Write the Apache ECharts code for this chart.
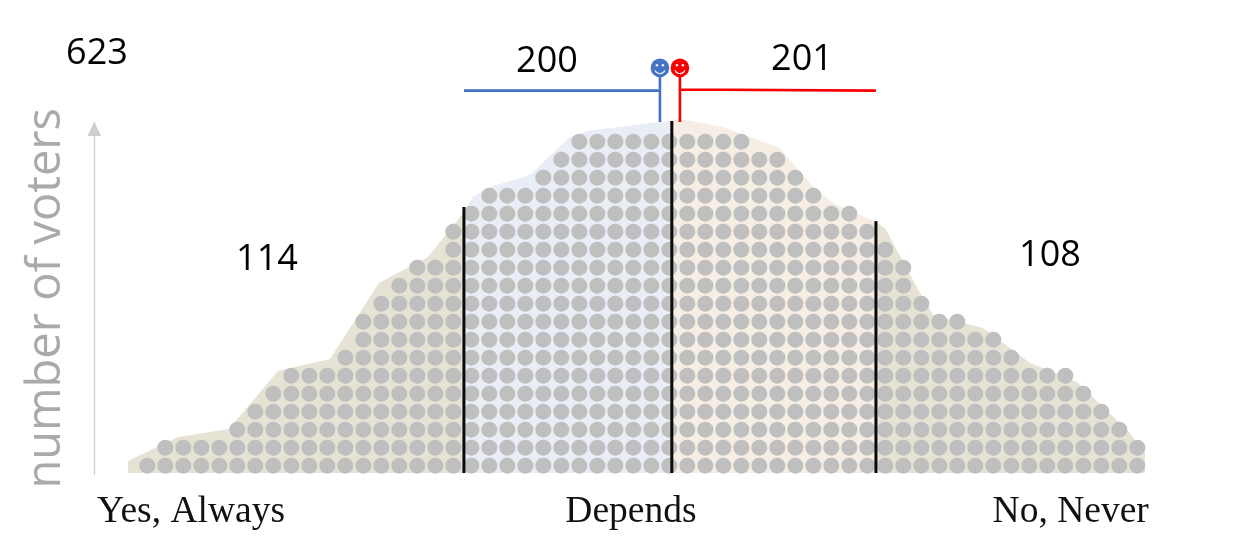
<!DOCTYPE html>
<html><head><meta charset="utf-8">
<style>html,body{margin:0;padding:0;background:#fff}#c{width:1236px;height:551px}</style>
<script src="https://cdn.jsdelivr.net/npm/echarts@6/dist/echarts.min.js"></script>
</head><body><div id="c"></div>
<script>
// Dots per column, left to right
const columnHeights = [1,2,2,2,2,3,4,5,6,6,6,7,9,10,11,12,12,14,
  15,16,16,16,17,18,19,19,19,19,19,19,
  19,19,19,19,18,18,17,16,15,15,14,
  13,12,10,9,9,8,8,7,6,6,6,5,4,3,2];
const xTickValues = [2.43, 26.87, 51.3];
const xTickLabels = ['Yes, Always', 'Depends', 'No, Never'];
const yAxisTitle = 'number of voters';
const segmentCounts = [114, 200, 201, 108];
const totalCount = 623;
// Shaded outline, in column / row units
const outlineLeft = [[-1.07,1.26],[1.71,2.59],[4.54,3.04],[7.26,6.26],[10.15,6.93],[12.87,11.15],[15.6,12.59],[17.59,15.09]];
const outlineMidL = [[17.59,15.09],[18.09,15.93],[19.04,16.48],[21.26,17.15],[23.48,19.26],[24.43,19.59],[28.48,20.09],[29.14,20.15]];
const outlineMidR = [[29.14,20.2],[29.59,20.26],[31.98,19.82],[35.15,18.65],[36.98,16.48],[38.09,15.59],[40.48,14.54]];
const outlineRight = [[40.48,14.54],[40.98,14.2],[42.93,10.59],[43.65,9.37],[46.43,8.65],[49.04,6.71],[51.65,5.65],[54.43,2.98],[55.43,1.71]];
// Dividers and brackets
const dividerA = [[17.59,0.594],[17.59,15.37]];
const dividerB = [[29.14,0.594],[29.14,20.15]];
const dividerC = [[40.48,0.594],[40.48,14.59]];
const blueBracket = [[17.59,21.84],[28.48,21.84],[28.48,22.6],[28.48,20.09]];
const redBracket = [[40.48,21.84],[29.59,21.9],[29.59,22.6],[29.59,20.09]];
const faces = [[28.48,23.1,'#4472c4'],[29.59,23.1,'#f80000']];

const BASE = 0.594;
const dots = [];
columnHeights.forEach((h, i) => { for (let r = 1; r <= h; r++) dots.push([i, r]); });

const area = (data, color) => ({type:'line', data, symbol:'none', clip:false, silent:true, z:1,
  lineStyle:{width:0}, areaStyle:{color, opacity:1, origin:BASE}});
const rule = (data, color, width, z) => ({type:'line', data, symbol:'none', clip:false, silent:true, z,
  lineStyle:{color, width, cap:'butt', join:'miter'}});

const text = (x, y, t) => ({type:'text', x, y, silent:true, style:{text:String(t), x:0, y:0, align:'center', verticalAlign:'middle',
  font:'36px "Open Sans"', fill:'#000'}});

const chart = echarts.init(document.getElementById('c'), null, {renderer:'canvas'});
chart.setOption({
  animation:false,
  backgroundColor:'#fff',
  grid:{left:93.3, width:1080, top:121.9, height:352.8, containLabel:false, outerBoundsMode:'none'},
  xAxis:{type:'value', min:-3, max:57, splitLine:{show:false}, axisLine:{show:false}, axisTick:{show:false},
    axisLabel:{show:true, customValues:xTickValues, margin:18,
      formatter:v => xTickLabels[xTickValues.indexOf(v)] || '',
      fontFamily:'Liberation Serif', fontSize:37.5, color:'#111', verticalAlign:'top'}},
  yAxis:{type:'value', min:0.5, max:20.1, offset:-1, splitLine:{show:false}, axisTick:{show:false}, axisLabel:{show:false},
    axisLine:{show:true, onZero:false, symbol:['none','triangle'], symbolSize:[14,14], symbolOffset:[0,-7],
      lineStyle:{color:'#cfcfcf', width:1.2}},
    name:yAxisTitle, nameLocation:'middle', nameRotate:90, nameGap:24,
    nameTextStyle:{fontFamily:'Open Sans', fontWeight:400, fontSize:47, color:'#aaaaaa'}},
  series:[
    area(outlineLeft,'#e6e2d4'),
    area(outlineMidL,'#e8edf6'),
    area(outlineMidR,'#f6ede4'),
    area(outlineRight,'#e6e2d4'),
    {type:'scatter', data:dots, symbol:'circle', symbolSize:16, silent:true, z:2, itemStyle:{color:'#bfbfbf', opacity:1}},
    rule(dividerA,'#0a0a0a',3,3),
    rule(dividerB,'#0a0a0a',3,3),
    rule(dividerC,'#0a0a0a',3,3),
    rule(blueBracket,'#4472c4',2.6,3),
    rule(redBracket,'#f80000',2.6,3),
    {type:'custom', data:faces, silent:true, z:4, clip:false,
      renderItem(params, api){
        const p = api.coord([api.value(0), api.value(1)]);
        const c = faces[params.dataIndex][2];
        return {type:'group', x:p[0], y:p[1], children:[
          {type:'circle', shape:{cx:0,cy:0,r:9.3}, style:{fill:c}},
          {type:'circle', shape:{cx:-3,cy:-2.6,r:1.3}, style:{fill:'#e8eefa'}},
          {type:'circle', shape:{cx:3,cy:-2.6,r:1.3}, style:{fill:'#e8eefa'}},
          {type:'arc', shape:{cx:0,cy:0.5,r:5.2,startAngle:0.35,endAngle:Math.PI-0.35}, style:{stroke:'#e8eefa',fill:null,lineWidth:1.2}}
        ]};
      }}
  ],
  graphic:[
    text(97,54,totalCount),
    text(267,260,segmentCounts[0]),
    text(547,62,segmentCounts[1]),
    text(802,60,segmentCounts[2]),
    text(1050,256,segmentCounts[3])
  ]
});
</script></body></html>
